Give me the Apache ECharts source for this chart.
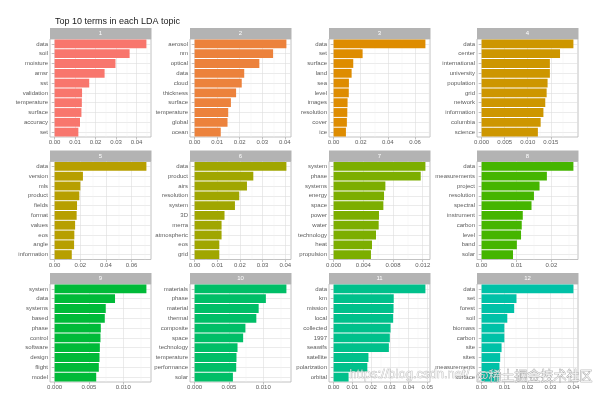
<!DOCTYPE html>
<html><head><meta charset="utf-8">
<script src="https://cdn.jsdelivr.net/npm/echarts@6/dist/echarts.min.js"></script>
<style>html,body{margin:0;padding:0;background:#fff}#c{width:600px;height:396px}</style>
</head><body><div id="c"></div>
<script>
const chartTitle = "Top 10 terms in each LDA topic";
const topicLabels = ["1","2","3","4","5","6","7","8","9","10","11","12"];
const topicColors = ["#F8766D","#EC823C","#DE8C00","#CD9600","#B79F00","#A0A600","#7CAE00","#45B500","#00BA38","#00BE67","#00C08B","#00C1A7"];

const t1Terms = ["data","soil","moisture","amsr","sst","validation","temperature","surface","accuracy","set"];
const t1Beta  = [0.0448,0.0366,0.0297,0.0244,0.0169,0.0134,0.0133,0.0131,0.0124,0.0116];
const t1Ticks = ["0.00","0.01","0.02","0.03","0.04"];

const t2Terms = ["aerosol","nm","optical","data","cloud","thickness","surface","temperature","global","ocean"];
const t2Beta  = [0.0407,0.0348,0.0287,0.0220,0.0209,0.0184,0.0161,0.0149,0.0146,0.0116];
const t2Ticks = ["0.00","0.01","0.02","0.03","0.04"];

const t3Terms = ["data","set","surface","land","sea","level","images","resolution","cover","ice"];
const t3Beta  = [0.0677,0.0214,0.0145,0.0133,0.0113,0.0112,0.0103,0.0101,0.0098,0.0091];
const t3Ticks = ["0.00","0.02","0.04","0.06"];

const t4Terms = ["data","center","international","university","population","grid","network","information","columbia","science"];
const t4Beta  = [0.0199,0.0170,0.0148,0.0148,0.0143,0.0141,0.0138,0.0134,0.0128,0.0122];
const t4Ticks = ["0.000","0.005","0.010","0.015"];

const t5Terms = ["data","version","mls","product","fields","format","values","eos","angle","information"];
const t5Beta  = [0.0716,0.0221,0.0201,0.0193,0.0175,0.0172,0.0160,0.0154,0.0152,0.0134];
const t5Ticks = ["0.00","0.02","0.04","0.06"];

const t6Terms = ["data","product","airs","resolution","system","3D","merra","atmospheric","eos","grid"];
const t6Beta  = [0.0405,0.0259,0.0231,0.0197,0.0178,0.0132,0.0119,0.0119,0.0109,0.0109];
const t6Ticks = ["0.00","0.01","0.02","0.03","0.04"];

const t7Terms = ["system","phase","systems","energy","space","power","water","technology","heat","propulsion"];
const t7Beta  = [0.01236,0.01173,0.00697,0.00679,0.00670,0.00611,0.00607,0.00571,0.00517,0.00503];
const t7Ticks = ["0.000","0.004","0.008","0.012"];

const t8Terms = ["data","measurements","project","resolution","spectral","instrument","carbon","level","band","solar"];
const t8Beta  = [0.0263,0.0187,0.0166,0.0150,0.0143,0.0118,0.0115,0.0113,0.0101,0.0090];
const t8Ticks = ["0.00","0.01","0.02"];

const t9Terms = ["system","data","systems","based","phase","control","software","design","flight","model"];
const t9Beta  = [0.01337,0.0088,0.00745,0.00731,0.00673,0.00668,0.00659,0.00654,0.00644,0.00606];
const t9Ticks = ["0.000","0.005","0.010"];

const t10Terms = ["materials","phase","material","thermal","composite","space","technology","temperature","performance","solar"];
const t10Beta  = [0.01337,0.01038,0.00933,0.00899,0.0074,0.00707,0.00625,0.0061,0.00606,0.00558];
const t10Ticks = ["0.000","0.005","0.010"];

const t11Terms = ["data","km","mission","local","collected","1997","seawifs","satellite","polarization","orbital"];
const t11Beta  = [0.0490,0.0321,0.0320,0.0318,0.0304,0.0300,0.0295,0.0186,0.0180,0.0080];
const t11Ticks = ["0.00","0.01","0.02","0.03","0.04","0.05"];

const t12Terms = ["data","set","forest","soil","biomass","carbon","site","sites","measurements","surface"];
const t12Beta  = [0.0400,0.0152,0.0142,0.0112,0.0099,0.0099,0.0087,0.0081,0.0078,0.0074];
const t12Ticks = ["0.00","0.01","0.02","0.03","0.04"];

const panels = [
  [t1Terms,t1Beta,t1Ticks],[t2Terms,t2Beta,t2Ticks],[t3Terms,t3Beta,t3Ticks],[t4Terms,t4Beta,t4Ticks],
  [t5Terms,t5Beta,t5Ticks],[t6Terms,t6Beta,t6Ticks],[t7Terms,t7Beta,t7Ticks],[t8Terms,t8Beta,t8Ticks],
  [t9Terms,t9Beta,t9Ticks],[t10Terms,t10Beta,t10Ticks],[t11Terms,t11Beta,t11Ticks],[t12Terms,t12Beta,t12Ticks]
];

const FONT = "'Liberation Sans', Arial, sans-serif";
const colLeft = [50, 190, 329, 477];
const colWidth = 101;
const rowTop = [39, 161.5, 284];
const rowHeight = 98;
const stripH = 11;

const grid=[], xAxis=[], yAxis=[], series=[], graphic=[];
panels.forEach((p, i) => {
  const [terms, beta, tickLabels] = p;
  const r = Math.floor(i/4), c = i%4;
  const left = colLeft[c], top = rowTop[r];
  grid.push({left: left, top: top, width: colWidth, height: rowHeight, show: true,
    borderColor: '#B3B3B3', borderWidth: 0.8, backgroundColor: '#fff',
    containLabel: false, outerBoundsMode: 'none'});
  const mx = Math.max(...beta);
  const lo = -0.05*mx, hi = 1.05*mx;
  const tickVals = tickLabels.map(Number);
  const step = tickVals[1]-tickVals[0];
  const minor = [];
  tickVals.forEach(v => { const m = v + step/2; if (m <= hi) minor.push(m); });
  xAxis.push({type:'value', gridIndex:i, min:lo, max:hi, position:'bottom',
    axisLine:{show:false},
    axisTick:{show:true, length:2.5, customValues:tickVals, lineStyle:{color:'#B3B3B3', width:0.8}},
    axisLabel:{customValues:tickVals, fontSize:6, color:'#5C5C5C', margin:2.5, fontFamily:FONT,
      formatter: v => { const k = tickVals.findIndex(t => Math.abs(t-v) < 1e-9); return k>=0 ? tickLabels[k] : ''; }},
    splitLine:{show:true, lineStyle:{color:'#DEDEDE', width:0.6}}});
  xAxis.push({type:'value', gridIndex:i, min:lo, max:hi, position:'top',
    axisLine:{show:false},
    axisTick:{show:false, customValues:minor},
    axisLabel:{show:false},
    splitLine:{show:true, lineStyle:{color:'#EDEDED', width:0.4}}});
  yAxis.push({type:'category', gridIndex:i, data:terms, inverse:true, position:'left',
    axisLine:{show:false},
    axisTick:{show:true, alignWithLabel:true, length:2.5, lineStyle:{color:'#B3B3B3', width:0.8}},
    axisLabel:{fontSize:6, color:'#5C5C5C', margin:2, interval:0, fontFamily:FONT},
    splitLine:{show:false}});
  yAxis.push({type:'value', gridIndex:i, min:0.5, max:10.5, position:'right',
    axisLine:{show:false},
    axisTick:{show:false, customValues:[1,2,3,4,5,6,7,8,9,10]},
    axisLabel:{show:false},
    splitLine:{show:true, lineStyle:{color:'#DEDEDE', width:0.6}}});
  series.push({type:'bar', xAxisIndex:2*i, yAxisIndex:2*i, data:beta, barWidth:'90%',
    itemStyle:{color:topicColors[i]}, silent:true, animation:false});
  graphic.push({type:'rect', left:left, top:top-stripH, silent:true,
    shape:{width:colWidth+0.5, height:stripH}, style:{fill:'#B3B3B3'}});
  graphic.push({type:'text', x:left+colWidth/2, y:top-stripH/2, silent:true,
    style:{text:topicLabels[i], fill:'#fff', font:'6px '+FONT, textAlign:'center', textVerticalAlign:'middle'}});
});

graphic.push({type:'text', left:349, top:368, silent:true, z:100,
  style:{text:'https://blog.csdn.net/', fill:'rgba(255,255,255,0.65)', stroke:'rgba(110,110,110,0.55)', lineWidth:0.6, font:'13px '+FONT}});
graphic.push({type:'text', left:476, top:368, silent:true, z:101,
  style:{text:'@稀土掘金技术社区', fill:'rgba(255,255,255,0.75)', stroke:'rgba(90,90,90,0.7)', lineWidth:0.6, font:"13px 'Noto Sans CJK SC'"}});

const chart = echarts.init(document.getElementById('c'), null, {renderer:'canvas'});
chart.setOption({
  animation:false,
  backgroundColor:'#fff',
  title:{text:chartTitle, left:50, top:12, textStyle:{fontSize:9, fontWeight:'normal', color:'#1a1a1a', fontFamily:FONT}},
  grid:grid, xAxis:xAxis, yAxis:yAxis, series:series, graphic:graphic
});
</script></body></html>
